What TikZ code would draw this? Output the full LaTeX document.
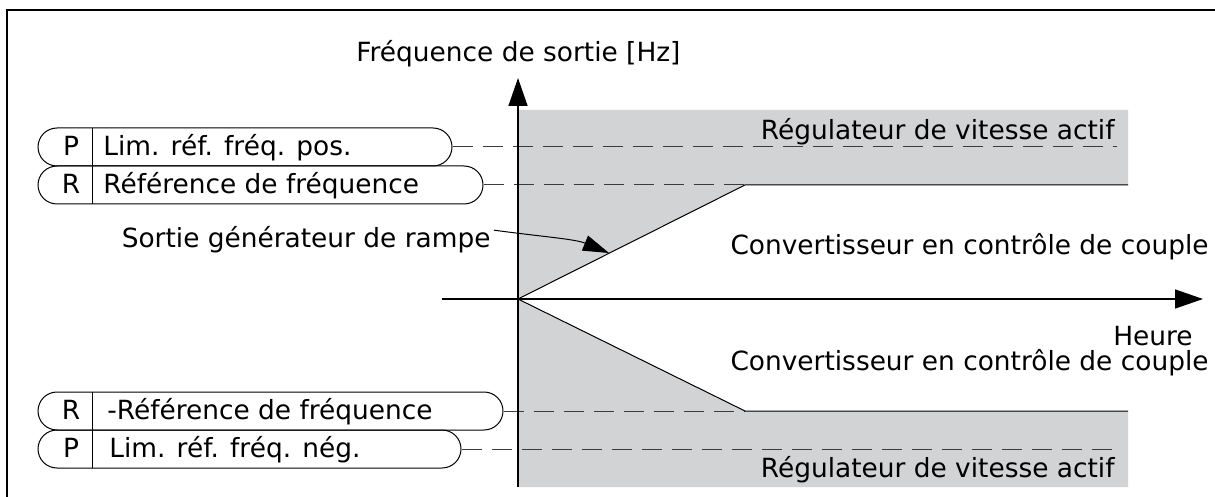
\documentclass[tikz,border=0pt]{standalone}
\usepackage{fontspec}
\setmainfont{DejaVu Sans}
\usetikzlibrary{arrows.meta}
\definecolor{zone}{HTML}{D2D3D5}
\definecolor{dashgray}{HTML}{3C3C3C}
\begin{document}
\begin{tikzpicture}[x=0.5pt,y=-0.5pt,
  font=\fontsize{13.2}{16}\selectfont,
  frame/.style={line width=0.8pt},
  axis/.style={line width=0.75pt,-{Triangle[length=14pt,width=9.5pt]}},
  thin/.style={line width=0.5pt},
  pill/.style={draw,line width=0.5pt,rounded corners=9.5pt,minimum height=19pt,inner sep=0pt},
  dashln/.style={line width=0.5pt,draw=dashgray,dash pattern=on 10pt off 5pt},
  lbl/.style={inner sep=0pt}]
\useasboundingbox (0,0) rectangle (1215,497);
% frame
\draw[frame] (7,497) -- (7,10) -- (1215,10);
% gray zones
\fill[zone] (518,110) -- (1128,110) -- (1128,185) -- (745,185) -- (518,299) -- cycle;
\fill[zone] (518,299) -- (745,411) -- (1128,411) -- (1128,487) -- (518,487) -- cycle;
% coordinates
\coordinate (O) at (518,299);
\coordinate (rampTop) at (745,185);
\coordinate (rampBot) at (745,411);
\coordinate (refEnd) at (1128,185);
\coordinate (negRefEnd) at (1128,411);
\coordinate (posLimEnd) at (1117,147);
\coordinate (negLimEnd) at (1117,449);
\coordinate (ramptip) at (609,253);
% pills
\node[pill,minimum width=207pt] (pPos) at (245,147) {};
\node[pill,minimum width=222.5pt] (rRef) at (260.5,185) {};
\node[pill,minimum width=232.5pt] (rNeg) at (270.5,411) {};
\node[pill,minimum width=211.5pt] (pNeg) at (249.5,449) {};
\draw[thin] (92,128) -- (92,204);
\draw[thin] (92,392) -- (92,468);
\node[lbl,anchor=base] (pPosL) at (71,155.5) {P};
\node[lbl,anchor=base] (rRefL) at (71,193.5) {R};
\node[lbl,anchor=base] (rNegL) at (71,419.5) {R};
\node[lbl,anchor=base] (pNegL) at (71,457.5) {P};
\node[lbl,anchor=base west] (pPosT) at (103,155.5) {Lim. réf. fréq. pos.};
\node[lbl,anchor=base west] (rRefT) at (103,193.5) {Référence de fréquence};
\node[lbl,anchor=base west] (rNegT) at (107,419.5) {-Référence de fréquence};
\node[lbl,anchor=base west] (pNegT) at (109,457.5) {Lim. réf. fréq. nég.};
% dashed connectors
\draw[dashln] (pPos.east) -- (posLimEnd);
\draw[dashln] (rRef.east) -- (rampTop);
\draw[dashln] (rNeg.east) -- (rampBot);
\draw[dashln] (pNeg.east) -- (negLimEnd);
% ramp
\draw[thin] (O) -- (rampTop) -- (refEnd);
\draw[thin] (O) -- (rampBot) -- (negRefEnd);
% axes
\draw[axis] (518,487) -- (518,78);
\draw[axis] (442,299) -- (1203,299);
% texts
\node[lbl,anchor=base west] (title) at (356,62) {Fréquence de sortie [Hz]};
\node[lbl,anchor=base east] (regUp) at (1115,140) {Régulateur de vitesse actif};
\node[lbl,anchor=base east] (regDn) at (1115,477) {Régulateur de vitesse actif};
\node[lbl,anchor=base east] (convUp) at (1209,255) {Convertisseur en contrôle de couple};
\node[lbl,anchor=base east] (convDn) at (1209,370) {Convertisseur en contrôle de couple};
\node[lbl,anchor=base east] (heure) at (1193,345) {Heure};
\node[lbl,anchor=base east] (rampe) at (491,248) {Sortie générateur de rampe};
\draw[thin,-{Triangle[length=13pt,width=8pt]}] (rampe.east) ++(3,-10) .. controls (545,237) and (575,239) .. (ramptip);
\end{tikzpicture}
\end{document}
